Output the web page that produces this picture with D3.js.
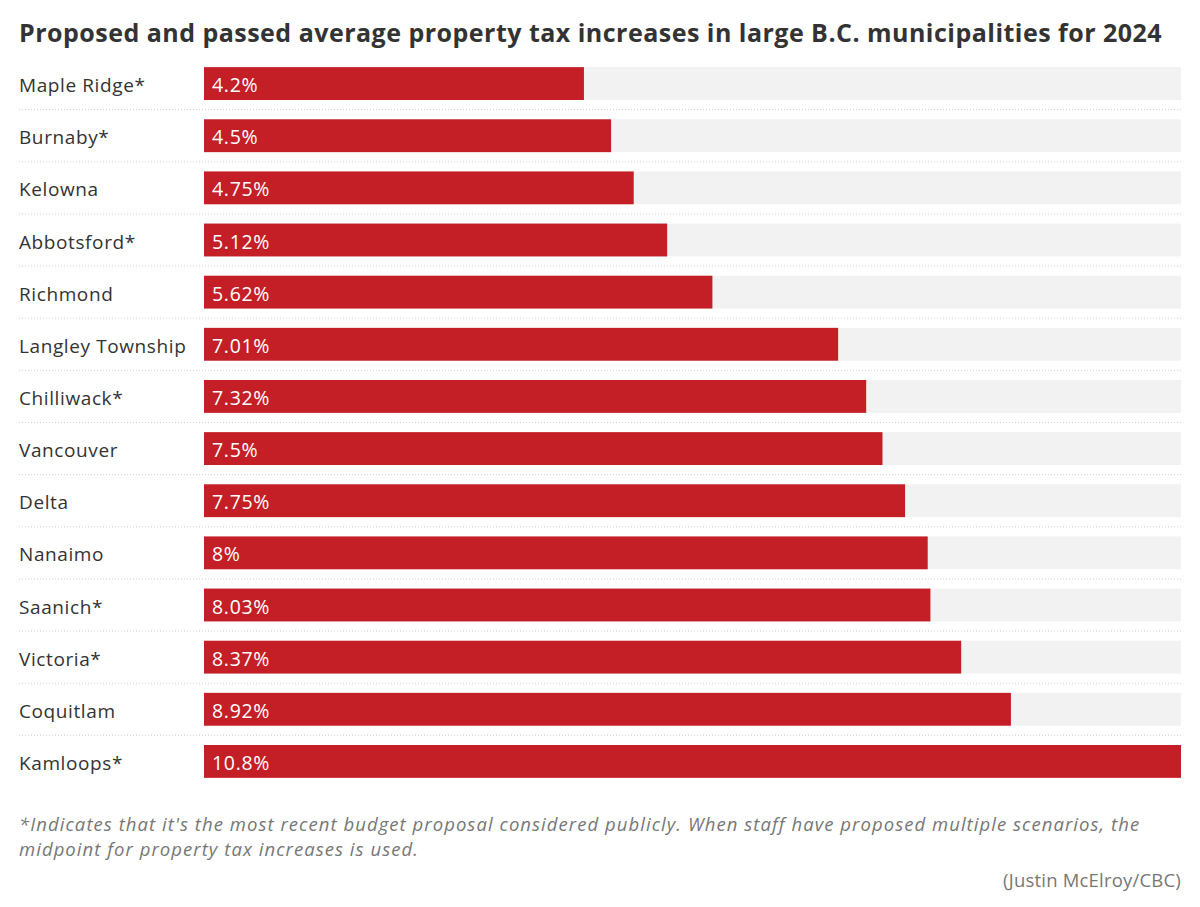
<!DOCTYPE html>
<html><head><meta charset="utf-8">
<script src="https://cdn.jsdelivr.net/npm/d3@7"></script>
<style>body{margin:0;background:#fff}svg{display:block}</style>
</head><body>
<script>
const categories = ["Maple Ridge*","Burnaby*","Kelowna","Abbotsford*","Richmond","Langley Township","Chilliwack*","Vancouver","Delta","Nanaimo","Saanich*","Victoria*","Coquitlam","Kamloops*"];
const values = [4.2,4.5,4.75,5.12,5.62,7.01,7.32,7.5,7.75,8,8.03,8.37,8.92,10.8];
const valueLabels = ["4.2%","4.5%","4.75%","5.12%","5.62%","7.01%","7.32%","7.5%","7.75%","8%","8.03%","8.37%","8.92%","10.8%"];
const titleText = "Proposed and passed average property tax increases in large B.C. municipalities for 2024";
const noteLines = ["*Indicates that it's the most recent budget proposal considered publicly. When staff have proposed multiple scenarios, the","midpoint for property tax increases is used."];
const credit = "(Justin McElroy/CBC)";

const W = 1200, H = 907;
const svg = d3.select("body").append("svg").attr("width", W).attr("height", H);
const font = "'Open Sans', 'Noto Sans', sans-serif";

svg.append("text").attr("x", 19).attr("y", 42).text(titleText)
  .attr("font-family", font).attr("font-weight", 700).attr("font-size", 25).attr("letter-spacing", 0.48).attr("fill", "#333");

const x = d3.scaleLinear().domain([0, d3.max(values)]).range([204, 1181]);
const y = d3.scaleBand().domain(categories).range([57.5, 787.5]).paddingInner(0.37).paddingOuter(0.185);

const g = svg.append("g");
const rows = g.selectAll("g.row").data(categories).join("g").attr("class","row");
rows.append("rect").attr("x", x(0)).attr("y", d => y(d)).attr("width", x.range()[1]-x(0)).attr("height", y.bandwidth()).attr("fill", "#f2f2f2");
rows.append("rect").attr("x", x(0)).attr("y", d => y(d)).attr("width", (d,i) => x(values[i]) - x(0)).attr("height", y.bandwidth()).attr("fill", "#c41f26");
rows.append("text").attr("x", 19).attr("y", d => y(d)+y.bandwidth()/2 + 8.5).text(d => d)
  .attr("font-family", font).attr("font-size", 19).attr("letter-spacing", 0.6).attr("fill", "#333");
rows.append("text").attr("x", x(0)+8).attr("y", d => y(d)+y.bandwidth()/2 + 8.5).text((d,i) => valueLabels[i])
  .attr("font-family", font).attr("font-size", 19.5).attr("letter-spacing", 0.7).attr("fill", "#fff");
// separators
const step = y.step();
g.selectAll("line.sep").data(categories.slice(0,-1)).join("line").attr("class","sep")
  .attr("x1", 19).attr("x2", 1181)
  .attr("y1", d => y(d)+y.bandwidth()+ (step-y.bandwidth())/2).attr("y2", d => y(d)+y.bandwidth()+(step-y.bandwidth())/2)
  .attr("stroke", "#cfcfcf").attr("stroke-width", 1).attr("stroke-dasharray", "1,2");

svg.append("g").selectAll("text").data(noteLines).join("text")
  .attr("x", 19).attr("y", (d,i) => 831 + i*24.5).text(d => d)
  .attr("font-family", font).attr("font-style","italic").attr("font-size", 18.5).attr("letter-spacing", 1.05).attr("fill", "#777");
svg.append("text").attr("x", 1181).attr("y", 887).attr("text-anchor","end").text(credit)
  .attr("font-family", font).attr("font-size", 18.5).attr("letter-spacing", 0.2).attr("fill", "#777");
</script>
</body></html>
